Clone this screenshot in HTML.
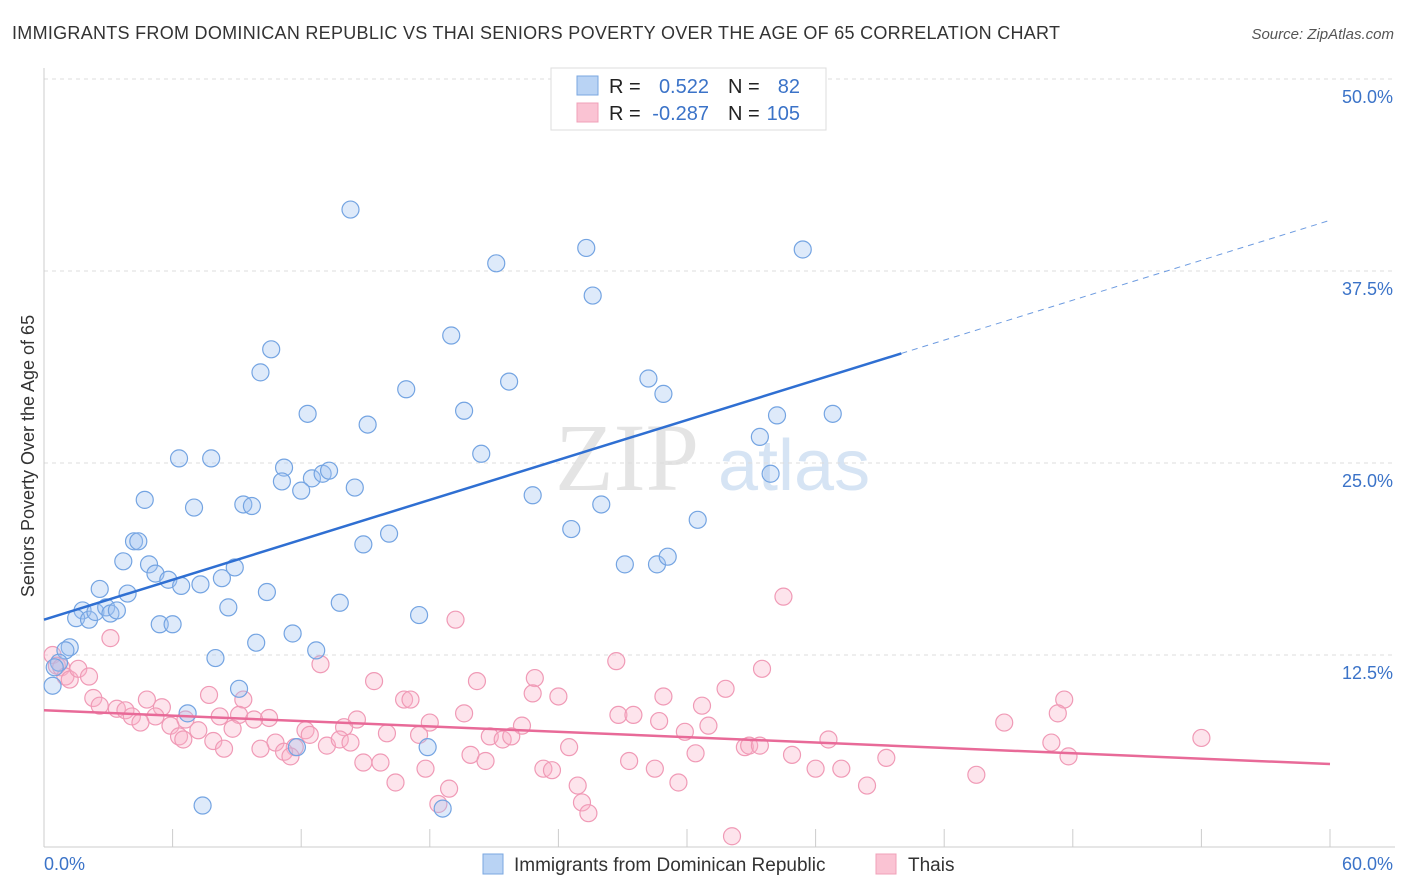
<!DOCTYPE html>
<html><head><meta charset="utf-8"><style>
body{margin:0;background:#fff;font-family:"Liberation Sans",sans-serif;}
svg{display:block}
</style></head><body>
<svg id="chart" width="1406" height="892" xmlns="http://www.w3.org/2000/svg">
<text x="12" y="39" font-size="18" fill="#333" textLength="1048" lengthAdjust="spacing">IMMIGRANTS FROM DOMINICAN REPUBLIC VS THAI SENIORS POVERTY OVER THE AGE OF 65 CORRELATION CHART</text>
<text x="1394" y="39" font-size="15" fill="#555" font-style="italic" text-anchor="end">Source: ZipAtlas.com</text>
<text x="555" y="490" font-size="96" fill="#e4e4e4" font-family="Liberation Serif">ZIP</text>
<text x="718" y="490" font-size="72" fill="#d6e4f4">atlas</text>
<g id="grid"></g>
<g id="axes"></g>
<g id="pts"></g>
<g id="trend"></g>
<text transform="translate(34,456) rotate(-90)" font-size="18" fill="#333" text-anchor="middle">Seniors Poverty Over the Age of 65</text>
<g>
<rect x="551" y="68" width="275" height="62" fill="#fff" stroke="#ddd"/>
<rect x="577" y="76" width="21" height="19" fill="#b9d3f4" stroke="#7aa7e0"/>
<rect x="577" y="103" width="21" height="19" fill="#fac3d3" stroke="#f0a0b8"/>
<text x="609" y="93" font-size="20" fill="#222">R =</text>
<text x="709" y="93" font-size="20" fill="#3b73c8" text-anchor="end">0.522</text>
<text x="728" y="93" font-size="20" fill="#222">N =</text>
<text x="800" y="93" font-size="20" fill="#3b73c8" text-anchor="end">82</text>
<text x="609" y="120" font-size="20" fill="#222">R =</text>
<text x="709" y="120" font-size="20" fill="#3b73c8" text-anchor="end">-0.287</text>
<text x="728" y="120" font-size="20" fill="#222">N =</text>
<text x="800" y="120" font-size="20" fill="#3b73c8" text-anchor="end">105</text>
</g>
<g>
<rect x="483" y="854" width="20" height="20" fill="#b9d3f4" stroke="#7aa7e0"/>
<text x="514" y="871" font-size="19" fill="#333">Immigrants from Dominican Republic</text>
<rect x="876" y="854" width="20" height="20" fill="#fac3d3" stroke="#f0a0b8"/>
<text x="908" y="871" font-size="19" fill="#333">Thais</text>
</g>
</svg>
<script>
const yTicks=[12.5,25,37.5,50];
const yTickLabels=["12.5%","25.0%","37.5%","50.0%"];
const blueX=[14.3,25.3,21.1,35.4,25.6,19.0,10.6,10.1,16.9,21.7,28.2,28.9,12.3,19.6,15.1,34.2,36.8,33.4,6.3,7.8,20.4,11.2,11.1,12.5,13.0,13.3,14.5,12.0,33.9,4.7,7.0,9.3,9.7,22.8,26.0,16.1,14.9,24.6,30.5,4.2,4.4,3.7,4.9,5.2,5.8,6.4,7.3,8.3,8.9,2.6,3.9,10.4,27.1,28.6,29.1,1.8,1.5,2.1,2.4,2.9,3.1,3.4,8.6,13.8,17.5,5.4,6.0,11.6,1.2,1.0,9.9,12.7,8.0,0.7,0.5,0.4,9.1,6.7,11.8,17.9,7.4,18.6];
const blueY=[41.5,39.0,38.0,38.9,35.9,33.3,32.4,30.9,29.8,30.3,30.5,29.5,28.2,28.4,27.5,28.1,28.2,26.7,25.3,25.3,25.6,24.7,23.8,24.0,24.3,24.5,23.4,23.2,24.3,22.6,22.1,22.3,22.2,22.9,22.3,20.4,19.7,20.7,21.3,19.9,19.9,18.6,18.4,17.8,17.4,17.0,17.1,17.5,18.2,16.8,16.5,16.6,18.4,18.4,18.9,15.4,14.9,14.8,15.3,15.6,15.2,15.4,15.6,15.9,15.1,14.5,14.5,13.9,13.0,12.8,13.3,12.8,12.3,12.0,11.7,10.5,10.3,8.7,6.5,6.5,2.7,2.5];
const pinkX=[34.5,19.2,3.1,26.7,12.9,33.5,0.4,0.6,0.8,1.0,1.2,1.6,2.1,22.9,15.4,20.2,31.8,22.8,24.0,2.3,2.6,7.7,9.3,16.8,17.1,28.9,47.6,4.8,3.4,3.8,5.5,4.1,5.2,6.6,8.2,9.1,10.5,9.8,14.6,19.6,26.8,27.5,30.7,47.3,4.5,5.9,7.2,8.8,18.0,22.3,28.7,31.0,44.8,12.2,14.0,12.4,16.0,17.5,20.8,21.4,21.8,29.9,36.6,54.0,6.3,6.5,7.9,10.8,10.1,11.7,13.2,13.8,14.3,8.4,11.2,11.5,24.5,32.7,32.9,33.4,34.9,47.8,47.0,30.4,19.9,20.6,14.9,15.7,27.3,39.3,23.3,23.7,28.5,36.0,37.2,43.5,17.8,16.4,18.9,24.9,29.6,38.4,18.4,25.1,25.4,32.1];
const pinkY=[16.3,14.8,13.6,12.1,11.9,11.6,12.5,11.8,11.7,11.1,10.9,11.6,11.1,11.0,10.8,10.8,10.3,10.0,9.8,9.7,9.2,9.9,9.6,9.6,9.6,9.8,9.6,9.6,9.0,8.9,9.1,8.5,8.5,8.3,8.5,8.6,8.4,8.3,8.3,8.7,8.6,8.6,9.2,8.7,8.1,7.9,7.6,7.7,8.1,7.9,8.2,7.9,8.1,7.6,7.8,7.3,7.4,7.3,7.2,7.0,7.2,7.5,7.0,7.1,7.2,7.0,6.9,6.8,6.4,6.5,6.6,7.0,6.8,6.4,6.2,5.9,6.5,6.5,6.6,6.6,6.0,5.9,6.8,6.1,6.0,5.6,5.5,5.5,5.6,5.8,5.1,5.0,5.1,5.1,5.1,4.7,5.1,4.2,3.8,4.0,4.2,4.0,2.8,2.9,2.2,0.7];
const blueTrend=[14.8,40.8];
const pinkTrend=[8.9,5.4];
const X0=44,X1=1330,Y0=847,Y1=79;
const sx=v=>X0+(v/60)*(X1-X0);
const sy=v=>Y0-(v/50)*(Y0-Y1);
const NS="http://www.w3.org/2000/svg";
function mk(tag,attrs,parent){const e=document.createElementNS(NS,tag);for(const k in attrs)e.setAttribute(k,attrs[k]);parent.appendChild(e);return e;}
const grid=document.getElementById('grid'),axes=document.getElementById('axes'),pts=document.getElementById('pts'),trend=document.getElementById('trend');
yTicks.forEach((t,i)=>{
 const l=mk('line',{x1:X0,x2:1395,y1:sy(t),y2:sy(t),stroke:'#ddd','stroke-dasharray':'4,4'},grid);
 
 
 const tx=mk('text',{x:1393,y:sy(t)+24,'font-size':18,fill:'#3b73c8','text-anchor':'end'},grid);
 tx.textContent=yTickLabels[i];
 
 
});
const ax=mk('line',{x1:X0,x2:1395,y1:Y0,y2:Y0,stroke:'#ccc'},axes);


const ay=mk('line',{x1:X0,x2:X0,y1:68,y2:Y0,stroke:'#ccc'},axes);


for(let v=0;v<=60;v+=6){
 const t=mk('line',{x1:sx(v),x2:sx(v),y1:829,y2:Y0,stroke:'#ccc'},axes);
 
 
}
const xl0=mk('text',{x:44,y:870,'font-size':18,fill:'#3b73c8'},axes);xl0.textContent='0.0%';


const xl1=mk('text',{x:1393,y:870,'font-size':18,fill:'#3b73c8','text-anchor':'end'},axes);xl1.textContent='60.0%';


pinkX.forEach((x,i)=>{
 const c=mk('circle',{cx:sx(x),cy:sy(pinkY[i]),r:8.5,fill:'rgba(248,178,200,0.35)',stroke:'#f09ab6','stroke-width':1.2},pts);
 
 
});
blueX.forEach((x,i)=>{
 const c=mk('circle',{cx:sx(x),cy:sy(blueY[i]),r:8.5,fill:'rgba(160,196,240,0.35)',stroke:'#74a4e2','stroke-width':1.2},pts);
 
 
});
const bAt=x=>blueTrend[0]+(blueTrend[1]-blueTrend[0])*x/60;
const bt=mk('line',{x1:sx(0),y1:sy(bAt(0)),x2:sx(40),y2:sy(bAt(40)),stroke:'#2f6fd2','stroke-width':2.5},trend);


const bd=mk('line',{x1:sx(40),y1:sy(bAt(40)),x2:sx(60),y2:sy(bAt(60)),stroke:'#6d9be0','stroke-width':1,'stroke-dasharray':'6,5'},trend);


const pt=mk('line',{x1:sx(0),y1:sy(pinkTrend[0]),x2:sx(60),y2:sy(pinkTrend[1]),stroke:'#e86a98','stroke-width':2.5},trend);


</script>
</body></html>
